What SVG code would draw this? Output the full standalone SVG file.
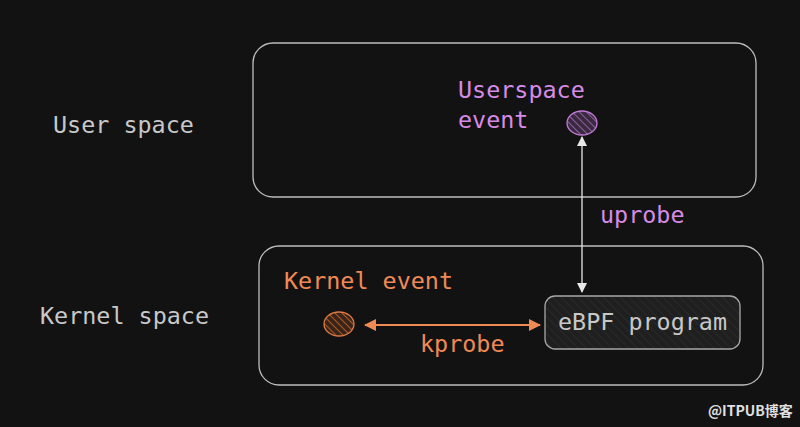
<svg xmlns="http://www.w3.org/2000/svg" width="800" height="427" viewBox="0 0 800 427">
<style>
.t{font-family:"DejaVu Sans Mono","Liberation Mono",monospace;font-size:23.4px}
.gray{fill:#c8c8c8}
.pur{fill:#d68be6}
.org{fill:#f08a55}
.box{fill:none;stroke:#bdbdbd;stroke-width:1.3}
</style>
<defs>
<pattern id="hp" width="5" height="5" patternUnits="userSpaceOnUse" patternTransform="rotate(-45)"><rect width="5" height="5" fill="#3a2a3f"/><line x1="0" y1="0" x2="0" y2="5" stroke="#b070c8" stroke-width="1.5"/></pattern>
<pattern id="ho" width="5" height="5" patternUnits="userSpaceOnUse" patternTransform="rotate(-45)"><rect width="5" height="5" fill="#3a2418"/><line x1="0" y1="0" x2="0" y2="5" stroke="#d06a30" stroke-width="1.5"/></pattern>
<pattern id="hg" width="6" height="6" patternUnits="userSpaceOnUse" patternTransform="rotate(-45)"><rect width="6" height="6" fill="#1f1f1f"/><line x1="0" y1="0" x2="0" y2="6" stroke="#2c2c2c" stroke-width="1.5"/></pattern>
<marker id="aw" markerWidth="10" markerHeight="10" refX="9" refY="5" orient="auto-start-reverse" markerUnits="userSpaceOnUse"><path d="M0,0 L10,5 L0,10 Z" fill="#e8e8e8"/></marker>
<marker id="ao" markerWidth="12" markerHeight="12" refX="11" refY="6" orient="auto-start-reverse" markerUnits="userSpaceOnUse"><path d="M0,0 L12,6 L0,12 Z" fill="#f08a55"/></marker>
</defs>
<rect width="800" height="427" fill="#121212"/>
<text class="t gray" x="53" y="133">User space</text>
<text class="t gray" x="40" y="324">Kernel space</text>
<g id="userspace">
<rect class="box" x="253" y="43" width="503" height="154" rx="20"/>
</g>
<g id="kernelspace">
<rect class="box" x="259" y="246" width="504" height="139" rx="20"/>
</g>
<g id="userspace-event">
<text class="t pur" x="458" y="98">Userspace</text>
<text class="t pur" x="458" y="128">event</text>
<ellipse cx="582" cy="123" rx="15" ry="12" fill="url(#hp)" stroke="#c47ad8" stroke-width="1.3"/>
</g>
<g id="kernel-event">
<text class="t org" x="284" y="289">Kernel event</text>
<ellipse cx="339" cy="324" rx="15" ry="12" fill="url(#ho)" stroke="#e07a45" stroke-width="1.3"/>
</g>
<g id="ebpf">
<rect x="545" y="296" width="195" height="53" rx="10" fill="url(#hg)" stroke="#a8a8a8" stroke-width="1.3"/>
<text class="t gray" x="558" y="330">eBPF program</text>
</g>
<g id="connectors">
<line x1="582" y1="137" x2="582" y2="292" stroke="#e8e8e8" stroke-width="1.3" marker-start="url(#aw)" marker-end="url(#aw)"/>
<line x1="365" y1="325" x2="540" y2="325" stroke="#f08a55" stroke-width="2" marker-start="url(#ao)" marker-end="url(#ao)"/>
<text class="t pur" x="600" y="223">uprobe</text>
<text class="t org" x="420" y="352">kprobe</text>
</g>
<text x="708" y="416" font-family="'Noto Sans CJK SC',sans-serif" font-size="14" font-weight="bold" fill="#e0e0e0">@ITPUB博客</text>
</svg>
